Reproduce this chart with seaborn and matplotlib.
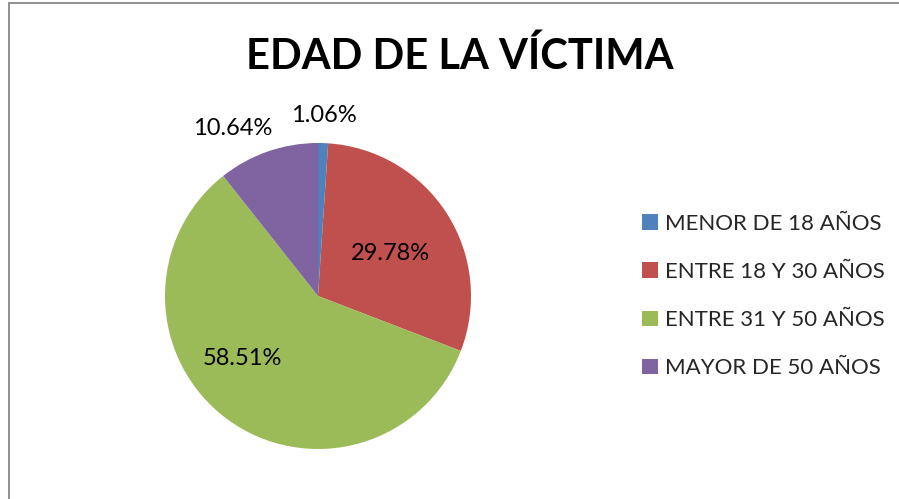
import numpy as np
import seaborn as sns
from matplotlib import pyplot as plt
from matplotlib.patches import Patch, Rectangle

# data
categories = ["MENOR DE 18 AÑOS", "ENTRE 18 Y 30 AÑOS", "ENTRE 31 Y 50 AÑOS", "MAYOR DE 50 AÑOS"]
percent = [1.06, 29.78, 58.51, 10.64]
title = "EDAD DE LA VÍCTIMA"

colors = ["#4F81BD", "#C0504D", "#9BBB59", "#8064A2"]
# label placement (radius as fraction of pie radius, angle in degrees)
label_pos = [(1.18, 88), (0.55, 30.5), (0.64, 219.6), (1.23, 117)]

sns.set_theme(style="white")
plt.rcParams["font.family"] = ["Lato", "DejaVu Sans"]

W, H = 899, 499
fig = plt.figure(figsize=(W / 100, H / 100), dpi=100)

cx, cy, r = 318, 296, 153
ax = fig.add_axes([(cx - r) / W, (H - cy - r) / H, 2 * r / W, 2 * r / H])
ax.pie(percent, colors=colors, startangle=90, counterclock=False, radius=1,
       wedgeprops=dict(linewidth=0))
ax.set_xlim(-1, 1)
ax.set_ylim(-1, 1)
ax.set_aspect("equal")
ax.axis("off")

for p, (rr, ang) in zip(percent, label_pos):
    t = np.deg2rad(ang)
    ax.text(rr * np.cos(t), rr * np.sin(t), f"{p:.2f}%", ha="center", va="center",
            fontsize=17, color="black", clip_on=False)

fig.text(460 / W, 1 - 56 / H, title, ha="center", va="center",
         fontsize=30, fontweight="bold", color="black")

handles = [Patch(facecolor=c, edgecolor="none") for c in colors]
fig.legend(handles, categories, loc="center left", bbox_to_anchor=(631 / W, 1 - 296 / H),
           frameon=False, fontsize=16, handlelength=0.7, handleheight=0.7,
           handletextpad=0.35, labelspacing=1.27, borderpad=0)

# chart area border
fig.add_artist(Rectangle((8.5 / W, -0.1), 1.2, 1 - 3.5 / H + 0.1, transform=fig.transFigure,
                         fill=False, edgecolor="#868686", linewidth=1.3))

fig.savefig("out.png", dpi=100, facecolor="white")
